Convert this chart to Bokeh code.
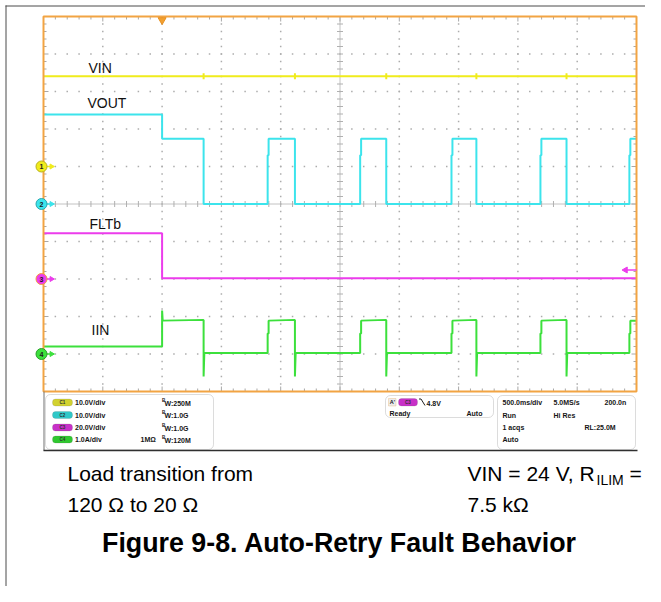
import numpy as np
from bokeh.plotting import figure
from bokeh.models import Range1d, BoxAnnotation
from bokeh.core.properties import value
from bokeh.embed import file_html
from bokeh.resources import INLINE

# ---------------- data (read from the scope capture) ----------------
ch_labels = ["1", "2", "3", "4"]
ch_names = ["VIN", "VOUT", "FLTb", "IIN"]
ch_scale = [10.0, 10.0, 20.0, 1.0]          # units per division
ch_offset = [1.0, 0.0, -2.0, -4.0]          # ground marker position, divisions
ch_colors = ["#f0ec1c", "#3ce4ec", "#ec3cec", "#3ce03c"]
ch_ring = ["#b8b020", "#2aa8b0", "#f0a040", "#2aa02a"]
pill_colors = ["#d2d230", "#30c8c8", "#c830c8", "#30c830"]

time_per_div = 0.5
t_start, t_end = -1.0, 4.0
t_fault = 0.0
t_first_off = 0.35
t_retry_on = [0.89, 1.67, 2.44, 3.19, 3.94]
t_retry_off = [1.12, 1.89, 2.65, 3.41]
t_edge_step = 0.008
t_undershoot = 0.006

vin_level = 24.1
vin_glitch = 0.8
vout_pre = 23.9
vout_limit = 17.4
vout_step = 13.0
flt_high = 24.4
flt_low = 0.4
iin_pre = 0.2
iin_spike = 1.16
iin_on_start = 0.89
iin_on_end = 0.91
iin_step = 0.55
iin_under = -0.6
iin_off = 0.03
trig_level_v = 4.8

ch_settings = ["10.0V/div", "10.0V/div", "20.0V/div", "1.0A/div"]
ch_bw = ["W:250M", "W:1.0G", "W:1.0G", "W:120M"]
trig_texts = ["4.8V", "Ready", "Auto"]
acq_left = ["500.0ms/div", "Run", "1 acqs", "Auto"]
acq_mid = ["5.0MS/s", "Hi Res", "", ""]
acq_right = ["200.0n", "", "RL:25.0M", ""]
caption_left = ["Load transition from", "120 \u03a9 to 20 \u03a9"]
caption_right = ["VIN = 24 V, R", "7.5 k\u03a9"]
caption_sub = "ILIM"
title_text = "Figure 9-8. Auto-Retry Fault Behavior"

# ---------------- layout (pixel coordinates) ----------------
W, H = 645, 586
CL, CR, CT, CB = 0, W, 0, H
X0, X1, Y0, Y1 = 43, 636, 16, 391
NX, NY = 10, 10
dx = (X1 - X0) / NX
dy = (Y1 - Y0) / NY
XC = (X0 + X1) / 2
YC = (Y0 + Y1) / 2
FONT = value("Liberation Sans")


def t_of(x):
    return t_start + (x - X0) / dx * time_per_div


def d_of(y):
    return (YC - y) / dy


p = figure(width=W, height=H, x_range=Range1d(CL, CR), y_range=Range1d(CB, CT),
           x_axis_type=None, y_axis_type=None, toolbar_location=None,
           output_backend="svg", min_border=0, outline_line_color=None,
           background_fill_color="white", border_fill_color="white")
p.extra_x_ranges = {"t": Range1d(t_of(CL), t_of(CR))}
yr = {"d": Range1d(d_of(CB), d_of(CT))}
for i in range(4):
    yr[f"c{i}"] = Range1d((d_of(CB) - ch_offset[i]) * ch_scale[i],
                          (d_of(CT) - ch_offset[i]) * ch_scale[i])
p.extra_y_ranges = yr


def txt(xs, ys, texts, size, bold=False, color="#151515", align="left", **kw):
    """ys are text baselines (pixels); drawn with a middle anchor."""
    p.text(x=xs, y=[y - 0.35 * size for y in ys], text=texts, text_font=FONT,
           text_font_size=value(f"{size}px"),
           text_font_style="bold" if bold else "normal",
           text_color=color, text_align=align, text_baseline="middle", **kw)


def ctxt(xs, ys, texts, size, bold=True, color="#202020", **kw):
    """ys are text centres."""
    p.text(x=xs, y=ys, text=texts, text_font=FONT, text_font_size=value(f"{size}px"),
           text_font_style="bold" if bold else "normal", text_color=color,
           text_align="center", text_baseline="middle", **kw)


# outer page frame
p.segment(x0=[5, 5.5], y0=[5.5, 5], x1=[CR, 5.5], y1=[5.5, CB],
          line_color="#4a4a4a", line_width=1)

# ---------------- graticule ----------------
minor_t = t_start + np.arange(NX * 5 + 1) * time_per_div / 5
minor_d = -NY / 2 + np.arange(NY * 5 + 1) * 0.2
major_t = [t_start + k * time_per_div for k in range(1, NX) if k != NX // 2]
major_d = [-NY / 2 + k for k in range(1, NY) if k != NY // 2]
t_center = t_start + NX / 2 * time_per_div

gx, gy = [], []
for tm in major_t:
    for dm in minor_d[1:-1]:
        gx.append(tm); gy.append(dm)
for dm in major_d:
    for tm in minor_t[1:-1]:
        gx.append(tm); gy.append(dm)
p.scatter(gx, gy, x_range_name="t", y_range_name="d", marker="square", size=1.5,
          fill_color="#acacac", line_color=None)

# center cross
p.segment(x0=[t_center, t_start], y0=[-NY / 2, 0], x1=[t_center, t_end], y1=[NY / 2, 0],
          x_range_name="t", y_range_name="d", line_color="#c2c2c2", line_width=1)
# ticks on center cross
p.segment(x0=[XC - 3] * len(minor_d), x1=[XC + 3] * len(minor_d), y0=minor_d, y1=minor_d,
          y_range_name="d", line_color="#b0b0b0", line_width=1)
p.segment(x0=minor_t, x1=minor_t, y0=[YC - 3] * len(minor_t), y1=[YC + 3] * len(minor_t),
          x_range_name="t", line_color="#b0b0b0", line_width=1)

# ticks along the border
is_major_t = [abs(((tm - t_start) / time_per_div) - round((tm - t_start) / time_per_div)) < 1e-6 for tm in minor_t]
is_major_d = [abs(dm - round(dm)) < 1e-6 for dm in minor_d]
lt = [5 if m else 3 for m in is_major_t]
ld = [5 if m else 3 for m in is_major_d]
p.segment(x0=minor_t, x1=minor_t, y0=[Y0] * len(minor_t), y1=[Y0 + l for l in lt],
          x_range_name="t", line_color="#a8a8a8", line_width=1)
p.segment(x0=minor_t, x1=minor_t, y0=[Y1] * len(minor_t), y1=[Y1 - l for l in lt],
          x_range_name="t", line_color="#a8a8a8", line_width=1)
p.segment(x0=[X0] * len(minor_d), x1=[X0 + l for l in ld], y0=minor_d, y1=minor_d,
          y_range_name="d", line_color="#a8a8a8", line_width=1)
p.segment(x0=[X1] * len(minor_d), x1=[X1 - l for l in ld], y0=minor_d, y1=minor_d,
          y_range_name="d", line_color="#a8a8a8", line_width=1)

# ---------------- waveforms ----------------
all_off = [t_first_off] + t_retry_off

vin_t, vin_v = [t_start], [vin_level]
for tf in all_off:
    vin_t += [tf, tf, tf, tf]
    vin_v += [vin_level, vin_level + vin_glitch, vin_level - vin_glitch, vin_level]
vin_t.append(t_end); vin_v.append(vin_level)

vout_t = [t_start, t_fault, t_fault, t_first_off, t_first_off]
vout_v = [vout_pre, vout_pre, vout_limit, vout_limit, 0.0]
for i, ton in enumerate(t_retry_on):
    vout_t += [ton, ton, ton + t_edge_step, ton + t_edge_step]
    vout_v += [0.0, vout_step, vout_step, vout_limit]
    if i < len(t_retry_off):
        vout_t += [t_retry_off[i], t_retry_off[i]]
        vout_v += [vout_limit, 0.0]
    else:
        vout_t.append(t_end); vout_v.append(vout_limit)

flt_t = [t_start, t_fault, t_fault, t_end]
flt_v = [flt_high, flt_high, flt_low, flt_low]

iin_t = [t_start, t_fault, t_fault, t_fault + 0.005,
         t_first_off, t_first_off, t_first_off + t_undershoot]
iin_v = [iin_pre, iin_pre, iin_spike, iin_on_start, iin_on_end, iin_under, iin_off]
for i, ton in enumerate(t_retry_on):
    iin_t += [ton, ton, ton + t_edge_step, ton + t_edge_step]
    iin_v += [iin_off, iin_step, iin_step, iin_on_start]
    if i < len(t_retry_off):
        tf = t_retry_off[i]
        iin_t += [tf, tf, tf + t_undershoot]
        iin_v += [iin_on_end, iin_under, iin_off]
    else:
        iin_t.append(t_end); iin_v.append(iin_on_start)

for i, (tt, vv) in enumerate([(vin_t, vin_v), (vout_t, vout_v), (flt_t, flt_v), (iin_t, iin_v)]):
    p.line(tt, vv, x_range_name="t", y_range_name=f"c{i}", line_color=ch_colors[i],
           line_width=2)

# orange frame of the graticule
p.quad(left=[X0], right=[X1], top=[Y0], bottom=[Y1], fill_color=None,
       line_color="#f2a443", line_width=2)

# trigger position marker
p.scatter([t_fault], [Y0 + 3.5], x_range_name="t", marker="inverted_triangle", size=8,
          fill_color="#f2a030", line_color="#e89020")

# trigger level marker (channel 3)
p.segment(x0=[X1 - 12], x1=[X1], y0=[trig_level_v], y1=[trig_level_v],
          y_range_name="c2", line_color=ch_colors[2], line_width=1.5)
p.scatter([X1 - 11], [trig_level_v], y_range_name="c2", marker="triangle", angle=np.pi / 2,
          size=6, fill_color=ch_colors[2], line_color=ch_colors[2])

# channel ground markers
p.segment(x0=[X0 + 3] * 4, x1=[X0 + 8] * 4, y0=ch_offset, y1=ch_offset, y_range_name="d",
          line_color=ch_colors, line_width=1.5)
p.scatter([X0 + 8] * 4, ch_offset, y_range_name="d", marker="triangle", angle=-np.pi / 2,
          size=5, fill_color=ch_colors, line_color=ch_colors)
p.scatter([X0 - 2] * 4, ch_offset, y_range_name="d", marker="circle", size=11,
          fill_color=ch_colors, line_color=ch_ring, line_width=1)
ctxt([X0 - 2] * 4, ch_offset, ch_labels, 7, y_range_name="d")

# trace labels
txt([88, 87, 89, 91], [72, 107, 228, 334], ch_names, 14, color="#101010")

# ---------------- status panel ----------------
p.segment(x0=[X0 + 0.5, X0], x1=[X0 + 0.5, X1 + 1], y0=[Y1, 450], y1=[450, 450],
          line_color=["#707070", "#303030"], line_width=[1, 1.5])
for (l, r, t, b) in [(45, 213, 394, 449), (385, 493, 395, 417), (497, 635, 395, 449)]:
    p.add_layout(BoxAnnotation(left=l, right=r, top=t, bottom=b, fill_color=None,
                               fill_alpha=0, line_color="#8c8c8c", line_width=1,
                               border_radius=5, level="underlay"))

rows = [404.5, 417, 429.5, 441.5]
for i in range(4):
    p.add_layout(BoxAnnotation(left=52, right=72, top=rows[i] - 6, bottom=rows[i] + 1,
                               fill_color=pill_colors[i], fill_alpha=1,
                               line_color="#6a6a6a", line_width=0.6,
                               border_radius=3, level="underlay"))
ctxt([62] * 4, [r - 2.5 for r in rows], ["C1", "C2", "C3", "C4"], 4.5, color="#303030")
txt([74.5] * 4, rows, ch_settings, 7, bold=True)
txt([161.5] * 4, [r - 3 for r in rows], ["B"] * 4, 4.5, bold=True)
txt([164] * 4, [r + 0.5 for r in rows], ch_bw, 7, bold=True)
txt([140], [rows[3]], ["1M\u03a9"], 7, bold=True)

# trigger box
p.add_layout(BoxAnnotation(left=388, right=395.5, top=398, bottom=405.5,
                           fill_color="#ececec", fill_alpha=1, line_color="#e0a050",
                           line_width=1, level="underlay"))
ctxt([391.8], [401.8], ["A'"], 5.5)
p.add_layout(BoxAnnotation(left=398, right=417, top=398, bottom=405.5,
                           fill_color=pill_colors[2], fill_alpha=1, line_color="#6a6a6a",
                           line_width=0.6, border_radius=3, level="underlay"))
ctxt([407.5], [401.8], ["C3"], 4.5, color="#303030")
p.line([418.5, 420.5, 424.5], [398.5, 398.5, 405], line_color="#202020", line_width=1)
txt([426, 389, 466], [405, 415, 415], trig_texts, 7, bold=True)

# acquisition box
txt([502] * 4, rows, acq_left, 7, bold=True)
txt([553] * 4, rows, acq_mid, 7, bold=True)
txt([604, 604, 584, 584], rows, acq_right, 7, bold=True)

# ---------------- captions ----------------
txt([67, 67], [480.7, 511.7], caption_left, 21, color="#000000")
txt([467, 467], [480.7, 511.7], caption_right, 21, color="#000000")
txt([596], [484.5], [caption_sub], 14, color="#000000")
txt([629], [480.7], ["="], 21, color="#000000")
txt([339], [551.7], [title_text], 26.8, bold=True, color="#000000", align="center")

open("out.html", "w").write(file_html(p, INLINE))
